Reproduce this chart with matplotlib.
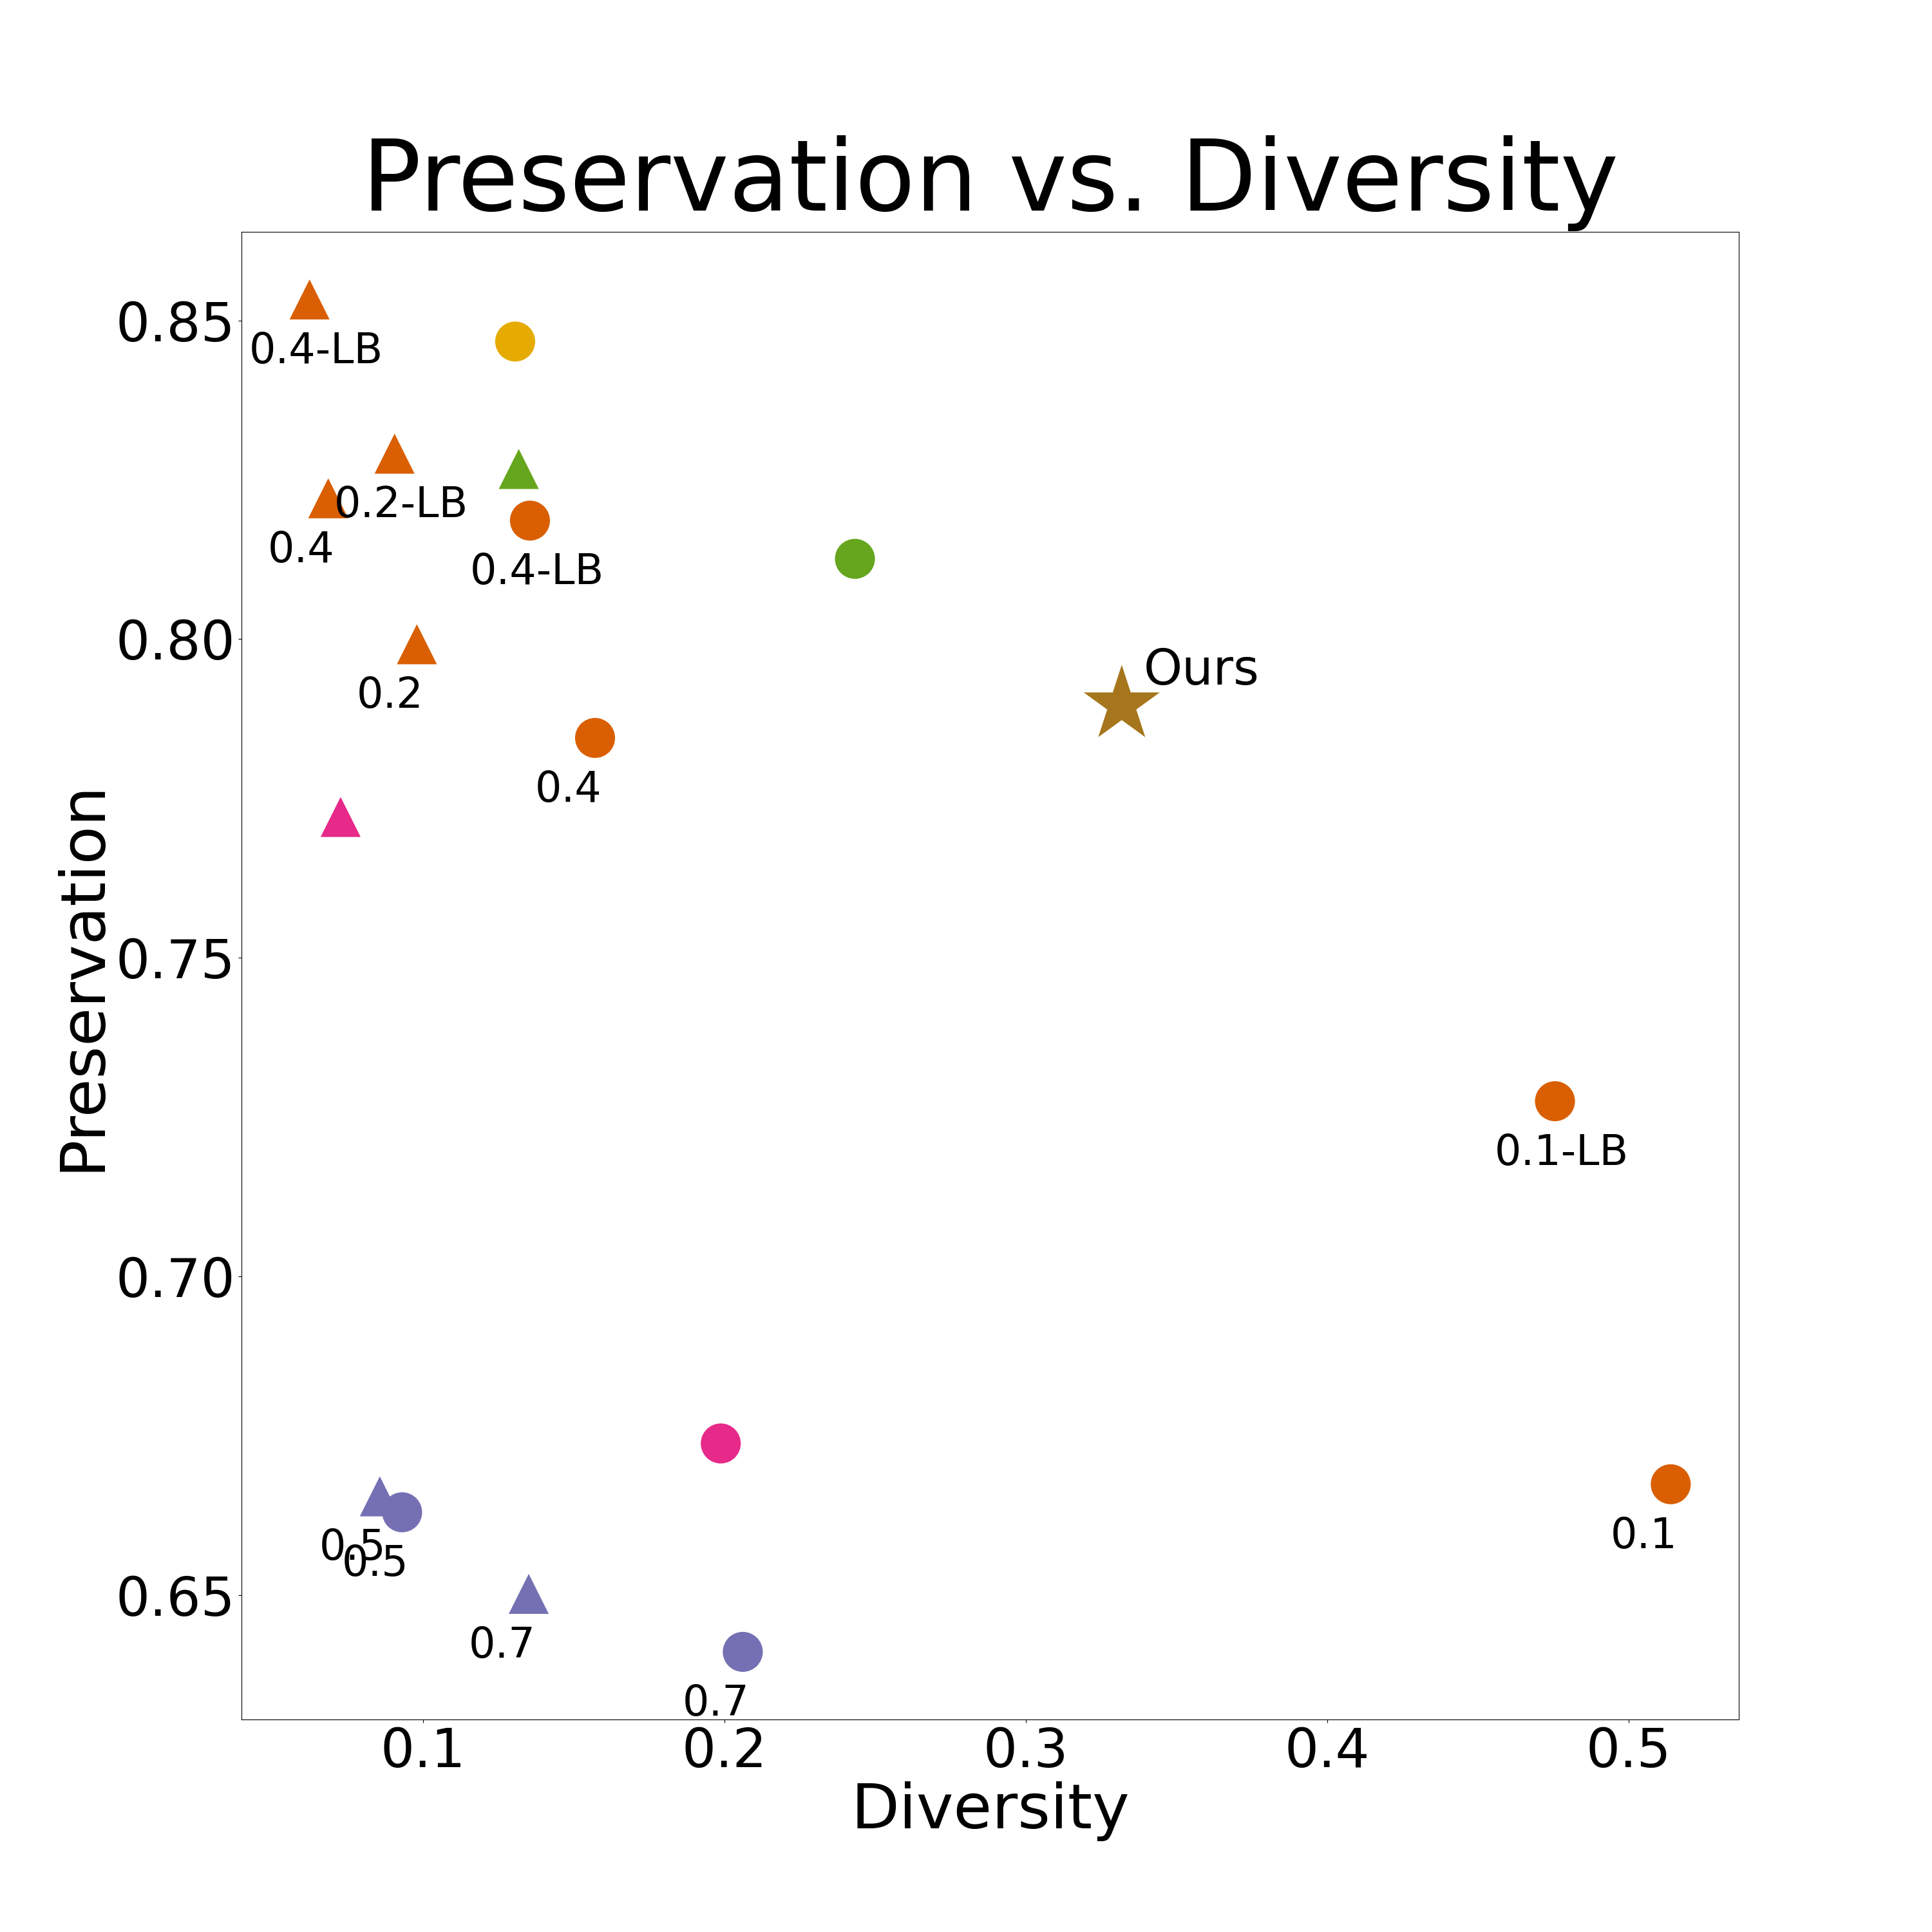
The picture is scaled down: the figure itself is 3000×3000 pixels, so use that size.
import matplotlib
matplotlib.use("Agg")
import matplotlib.pyplot as plt

# one entry per method/setting
diversity = [0.0624, 0.1306, 0.0906, 0.1318, 0.0686, 0.1355, 0.2433, 0.0980, 0.3318,
             0.1571, 0.0727, 0.4755, 0.1988, 0.5139, 0.0857, 0.0931, 0.1351, 0.2061]
preservation = [0.8533, 0.8467, 0.8291, 0.8267, 0.8221, 0.8186, 0.8126, 0.7992, 0.7897,
                0.7845, 0.7721, 0.7275, 0.6738, 0.6674, 0.6655, 0.6630, 0.6502, 0.6411]
markers = ["^", "o", "^", "^", "^", "o", "o", "^", "*",
           "o", "^", "o", "o", "o", "^", "o", "^", "o"]
colors = ["#d95f02", "#e6ab02", "#d95f02", "#66a61e", "#d95f02", "#d95f02", "#66a61e", "#d95f02", "#a6761d",
          "#d95f02", "#e7298a", "#d95f02", "#e7298a", "#d95f02", "#7570b3", "#7570b3", "#7570b3", "#7570b3"]
labels = ["0.4-LB", "", "0.2-LB", "", "0.4", "0.4-LB", "", "0.2", "Ours",
          "0.4", "", "0.1-LB", "", "0.1", "0.5", "0.5", "0.7", "0.7"]

fig, ax = plt.subplots(figsize=(30, 30), dpi=100)

for x, y, m, c, lab in zip(diversity, preservation, markers, colors, labels):
    size = 8000 if m == "*" else 2000
    ax.scatter(x, y, marker=m, s=size, color=c, edgecolors="none")
    if lab == "Ours":
        ax.annotate(lab, (x, y), xytext=(x + 0.0072, y + 0.0032), fontsize=55)
    elif lab:
        ax.annotate(lab, (x, y), xytext=(x - 0.02, y - 0.01), fontsize=47)

ax.set_title("Preservation vs. Diversity", fontsize=110, pad=24)
ax.set_xlabel("Diversity", fontsize=70)
ax.set_ylabel("Preservation", fontsize=70)
ax.tick_params(labelsize=60)

plt.savefig("out.png")
